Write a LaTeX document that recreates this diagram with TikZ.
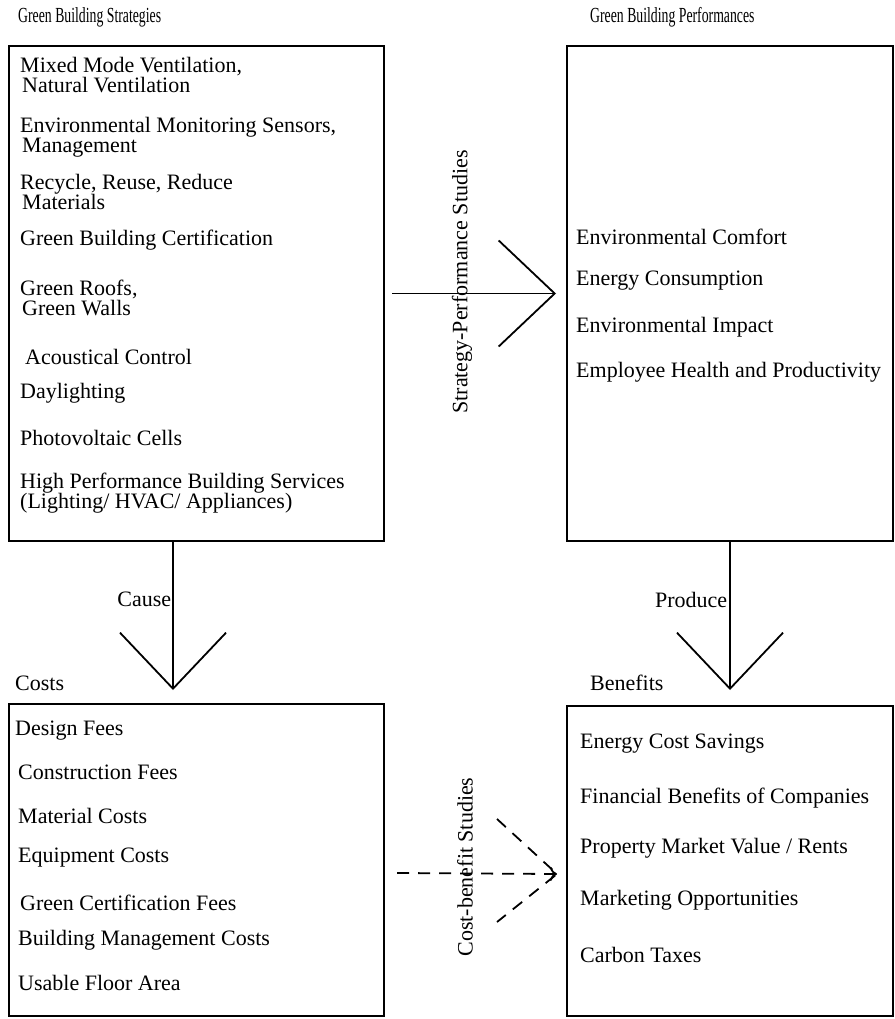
\documentclass[tikz,border=0pt]{standalone}
\usepackage{fontspec}
\setmainfont{Liberation Serif}
\newfontfamily\headfont[FakeStretch=0.64]{Liberation Serif}
\usetikzlibrary{arrows.meta,calc}

\begin{document}
\begin{tikzpicture}[x=1pt, y=-1pt,
      font=\fontsize{22}{20.5}\selectfont,
      panel/.style={draw, line width=2pt, inner sep=0pt, anchor=north west},
      head/.style={anchor=west, inner sep=0pt},
      tophead/.style={head, font=\headfont\fontsize{21.5}{21.5}\selectfont},
      item/.style={anchor=west, inner sep=0pt, align=left},
      flow/.style={line width=1.8pt, -{Straight Barb[length=56pt, width=106pt]}},
      cb/.style={line width=1.8pt, dash pattern=on 12pt off 9pt},
    ]
    \useasboundingbox (0,0) rectangle (894,1019);

    % the four panels
    \node[panel, minimum width=375pt, minimum height=495pt] (strat) at (8,45) {};
    \node[panel, minimum width=326pt, minimum height=495pt] (perf) at (566,45) {};
    \node[panel, minimum width=375pt, minimum height=312pt] (cost) at (8,703) {};
    \node[panel, minimum width=326pt, minimum height=310pt] (ben) at (566,705) {};

    % panel titles
    \node[tophead] (strathead) at (18,17) {Green Building Strategies};
    \node[tophead] (perfhead) at (590,17) {Green Building Performances};
    \node[head] (costhead) at (15,683) {Costs};
    \node[head] (benhead) at (590,683) {Benefits};

    % strategies
    \node[item] (s1) at (20,75) {Mixed Mode Ventilation,\\\hspace{2pt}Natural Ventilation};
    \node[item] (s2) at (20,137) {Environmental Monitoring Sensors,\\\hspace{2pt}Management};
    \node[item] (s3) at (20,192) {Recycle, Reuse, Reduce\\\hspace{2pt}Materials};
    \node[item] (s4) at (20,240) {Green Building Certification};
    \node[item] (s5) at (20,298) {Green Roofs,\\\hspace{2pt}Green Walls};
    \node[item] (s6) at (25,357) {Acoustical Control};
    \node[item] (s7) at (20,393) {Daylighting};
    \node[item] (s8) at (20,438) {Photovoltaic Cells};
    \node[item] (s9) at (20,493) {High Performance Building Services\\(Lighting/ HVAC/ Appliances)};

    % performances
    \node[item] (p1) at (576,237) {Environmental Comfort};
    \node[item] (p2) at (576,281) {Energy Consumption};
    \node[item] (p3) at (576,327) {Environmental Impact};
    \node[item] (p4) at (576,372) {Employee Health and Productivity};

    % costs
    \node[item] (c1) at (15,731) {Design Fees};
    \node[item] (c2) at (18,772) {Construction Fees};
    \node[item] (c3) at (18,816) {Material Costs};
    \node[item] (c4) at (18,858) {Equipment Costs};
    \node[item] (c5) at (20,903) {Green Certification Fees};
    \node[item] (c6) at (18,940) {Building Management Costs};
    \node[item] (c7) at (18,983) {Usable Floor Area};

    % benefits
    \node[item] (b1) at (580,744) {Energy Cost Savings};
    \node[item] (b2) at (580,798) {Financial Benefits of Companies};
    \node[item] (b3) at (580,848) {Property Market Value / Rents};
    \node[item] (b4) at (580,900) {Marketing Opportunities};
    \node[item] (b5) at (580,955) {Carbon Taxes};

    % links between panels
    \draw[flow] ([xshift=7pt]strat.east) -- ([xshift=-10pt]perf.west);
    \node[rotate=90, inner sep=0pt] (sptext) at (462,282) {Strategy-Performance Studies};

    \draw[flow] ([xshift=-23.5pt]strat.south) -- ([xshift=-23.5pt,yshift=13pt]cost.north)
      node[pos=0.39, left, inner sep=1pt] {Cause};
    \draw[flow] (perf.south) -- ([yshift=15pt]ben.north)
      node[pos=0.39, left, inner sep=2pt] {Produce};

    \coordinate (cbtip) at ([xshift=-9pt,yshift=-13pt]ben.west);
    \draw[cb, -{To[length=7pt, width=14pt]}] ([xshift=12pt,yshift=-13pt]cost.east) -- (cbtip);
    \draw[cb] ([xshift=-60pt,yshift=55pt]cbtip) -- (cbtip) -- ([xshift=-60pt,yshift=-48pt]cbtip);
    \node[rotate=90, inner sep=0pt] (cbtext) at (465,867) {Cost-benefit Studies};
  \end{tikzpicture}
\end{document}
